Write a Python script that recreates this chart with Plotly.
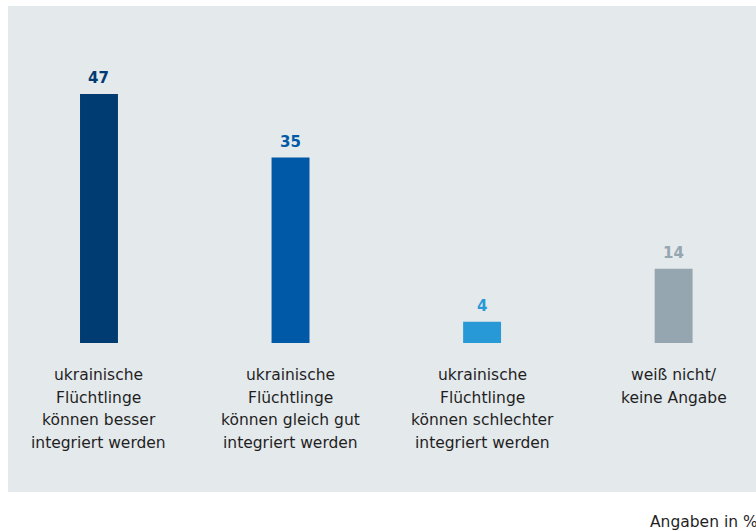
import plotly.graph_objects as go

# Survey answers and their shares (percent)
categories = [
    ["ukrainische", "Flüchtlinge", "können besser", "integriert werden"],
    ["ukrainische", "Flüchtlinge", "können gleich gut", "integriert werden"],
    ["ukrainische", "Flüchtlinge", "können schlechter", "integriert werden"],
    ["weiß nicht/", "keine Angabe"],
]
values = [47, 35, 4, 14]
colors = ["#003b71", "#0059a6", "#2899d7", "#95a6b0"]

FONT = "DejaVu Sans"
positions = list(range(len(values)))

fig = go.Figure(
    go.Bar(
        x=positions,
        y=values,
        width=0.198,
        marker=dict(color=colors, line=dict(width=0)),
        hoverinfo="skip",
    )
)

annotations = []
# value labels above each bar
for xi, v, c in zip(positions, values, colors):
    annotations.append(dict(
        x=xi, y=v, xref="x", yref="y", text=f"<b>{v}</b>",
        showarrow=False, yanchor="bottom", yshift=5,
        font=dict(family=FONT, size=15, color=c),
    ))

# category labels below the baseline, one annotation per line
for xi, lines in zip(positions, categories):
    for k, line in enumerate(lines):
        annotations.append(dict(
            x=xi, y=-6.1, xref="x", yref="y", text=line,
            showarrow=False, yanchor="middle", yshift=-22.5 * k,
            font=dict(family=FONT, size=15.5, color="#1f1f1f"),
        ))

# footnote at the bottom right
annotations.append(dict(
    x=0.8556, y=-0.0617, xref="paper", yref="paper", text="Angaben in %",
    showarrow=False, xanchor="left", yanchor="middle",
    font=dict(family=FONT, size=15.5, color="#1f1f1f"),
))

fig.update_layout(
    width=756, height=531,
    margin=dict(l=8, r=0, t=6, b=39),
    paper_bgcolor="white",
    plot_bgcolor="#e4e9ec",
    showlegend=False,
    xaxis=dict(range=[-0.475, 3.43], visible=False, fixedrange=True),
    yaxis=dict(range=[-28.1, 63.6], visible=False, fixedrange=True),
    annotations=annotations,
)

fig.write_html("out.html")
